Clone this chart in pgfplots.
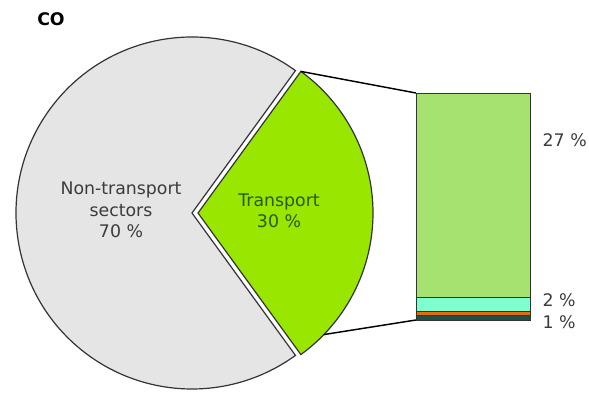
\documentclass[border=0pt]{standalone}
\usepackage{pgfplots}
\pgfplotsset{compat=1.18}
\usepackage{fontspec}
\setmainfont{DejaVu Sans}
\definecolor{pieGray}{RGB}{229,229,229}
\definecolor{pieGreen}{RGB}{153,230,0}
\definecolor{barGreen}{RGB}{166,226,112}
\definecolor{barAqua}{RGB}{127,255,208}
\definecolor{barOrange}{RGB}{228,108,10}
\definecolor{barDark}{RGB}{30,80,70}
\definecolor{edge}{RGB}{50,50,60}
\definecolor{txtGray}{RGB}{60,60,60}
\definecolor{txtGreen}{RGB}{40,90,10}
\newcommand{\lbl}{\fontsize{13}{16}\selectfont}
\begin{document}
\begin{tikzpicture}
\useasboundingbox (0,0) rectangle (441.75pt,294.75pt);
\node[anchor=center,font=\lbl\bfseries] at (38.25pt,280.5pt) {CO};
% pie: shares of total emissions
\pgfmathsetmacro{\transport}{30}
\pgfmathsetmacro{\half}{360*\transport/100/2}
\begin{axis}[at={(12pt,3pt)}, anchor=south west, scale only axis,
  width=264pt, height=264pt, xmin=-176, xmax=176, ymin=-176, ymax=176,
  hide axis, clip=false]
\filldraw[fill=pieGray, draw=edge, line width=0.9pt]
  (axis cs:0,0) -- (axis cs:{176*cos(\half)},{176*sin(\half)})
  arc[start angle=\half, end angle={360-\half}, radius=132pt] -- cycle;
\filldraw[fill=pieGreen, draw=edge, line width=0.9pt]
  (axis cs:6,0) -- (axis cs:{6+175*cos(\half)},{175*sin(\half)})
  arc[start angle=\half, end angle=-\half, radius=131.25pt] -- cycle;
\draw[black, line width=1.1pt] (axis cs:{6+175*cos(\half)},{175*sin(\half)}) -- (axis cs:224,120);
\draw[black, line width=1.1pt] (axis cs:{6+175*cos(-44)},{175*sin(-44)}) -- (axis cs:224,-107);
\node[align=center, text=txtGray, font=\lbl] at (axis cs:-71,3) {Non-transport\\sectors\\70 \%};
\node[align=center, text=txtGreen, font=\lbl] at (axis cs:87,2) {Transport\\30 \%};
\end{axis}
% bar: breakdown of transport
\begin{axis}[at={(312pt,54.75pt)}, anchor=south west, scale only axis,
  width=85.5pt, height=170.25pt, xmin=-0.5, xmax=0.5, ymin=0, ymax=30,
  hide axis, clip=false, ybar stacked, bar width=1]
\addplot[fill=barDark, draw=edge, line width=0.6pt] coordinates {(0,0.6)};
\addplot[fill=barOrange, draw=edge, line width=0.6pt] coordinates {(0,0.6)};
\addplot[fill=barAqua, draw=edge, line width=0.6pt] coordinates {(0,1.8)};
\addplot[fill=barGreen, draw=edge, line width=0.6pt] coordinates {(0,27)};
\node[anchor=west, text=txtGray, font=\lbl, xshift=6pt] at (axis cs:0.5,23.8) {27 \%};
\node[anchor=west, text=txtGray, font=\lbl, xshift=6pt] at (axis cs:0.5,2.6) {2 \%};
\node[anchor=west, text=txtGray, font=\lbl, xshift=6pt] at (axis cs:0.5,-0.3) {1 \%};
\end{axis}
\end{tikzpicture}
\end{document}
